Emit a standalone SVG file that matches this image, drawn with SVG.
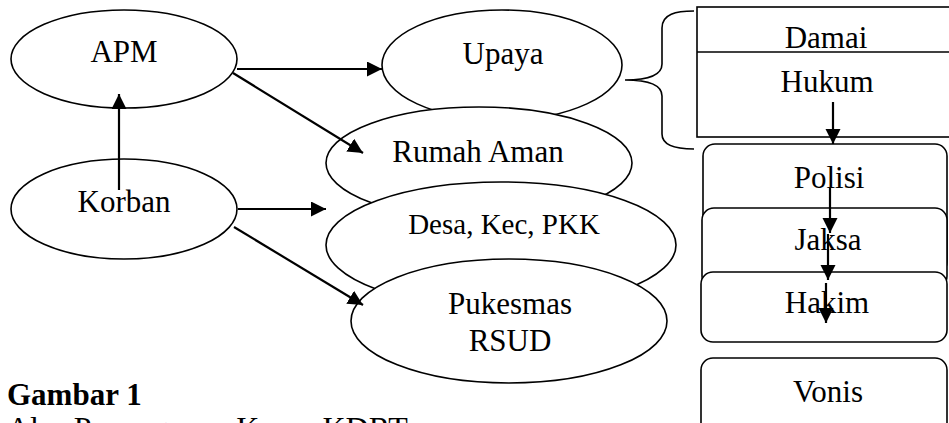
<svg xmlns="http://www.w3.org/2000/svg" width="949" height="423" viewBox="0 0 949 423">
<defs>
<style>
.n{fill:#fff;stroke:#000;stroke-width:1.6}
.t{font-family:"Liberation Serif","Times New Roman",serif;font-size:31px;fill:#000;text-anchor:middle}
.c line{stroke:#000;stroke-width:2.2;marker-end:url(#ah)}
</style>
<marker id="ah" markerUnits="userSpaceOnUse" markerWidth="16" markerHeight="16" refX="15" refY="7.5" orient="auto">
<path d="M0,0 L15,7.5 L0,15 z" fill="#000"/>
</marker>
</defs>
<rect width="949" height="423" fill="#fff"/>
<g id="apm"><ellipse class="n" cx="124" cy="59" rx="113" ry="49"/><text class="t" x="124" y="62">APM</text></g>
<g id="korban"><ellipse class="n" cx="124" cy="209" rx="113" ry="50"/><text class="t" x="124" y="212">Korban</text></g>
<g id="upaya"><ellipse class="n" cx="502" cy="65" rx="120" ry="55"/><text class="t" x="503" y="64">Upaya</text></g>
<g id="rumah"><ellipse class="n" cx="479" cy="163" rx="153" ry="56"/><text class="t" x="478" y="162">Rumah Aman</text></g>
<g id="desa"><ellipse class="n" cx="501" cy="245" rx="175" ry="63"/><text class="t" x="504" y="234" style="font-size:29px">Desa, Kec, PKK</text></g>
<g id="pukesmas"><ellipse class="n" cx="509" cy="321" rx="158" ry="62"/><text class="t" x="510" y="314">Pukesmas</text><text class="t" x="510" y="351">RSUD</text></g>
<g id="brace"><path d="M694,11 C676,11 662,14 662,28 L662,64 C662,76 645,80 625,80 C645,80 662,84 662,96 L662,134 C662,146 676,149 694,149" fill="none" stroke="#000" stroke-width="1.6"/></g>
<g id="damai-hukum"><rect class="n" x="697" y="7" width="260" height="130"/><line x1="697" y1="52" x2="957" y2="52" stroke="#000" stroke-width="1.6"/><text class="t" x="826" y="48">Damai</text><text class="t" x="827" y="92">Hukum</text></g>
<g id="polisi"><rect class="n" x="703" y="144" width="244" height="130" rx="12"/><text class="t" x="829" y="188">Polisi</text></g>
<g id="jaksa"><rect class="n" x="702" y="208" width="245" height="80" rx="12"/><text class="t" x="828" y="250">Jaksa</text></g>
<g id="hakim"><rect class="n" x="701" y="272" width="246" height="70" rx="12"/><text class="t" x="827" y="313">Hakim</text></g>
<g id="vonis"><rect class="n" x="701" y="358" width="246" height="90" rx="12"/><text class="t" x="828" y="402">Vonis</text></g>
<g id="connectors" class="c">
<line x1="119" y1="190" x2="119" y2="94"/>
<line x1="237" y1="69" x2="382" y2="69"/>
<line x1="233" y1="73" x2="363" y2="153"/>
<line x1="238" y1="209" x2="326" y2="209"/>
<line x1="234" y1="227" x2="363" y2="305"/>
<line x1="833" y1="102" x2="833" y2="144"/>
<line x1="830" y1="187" x2="830" y2="233"/>
<line x1="828" y1="234" x2="828" y2="280"/>
<line x1="826" y1="283" x2="826" y2="323"/>
</g>
<g id="caption">
<text x="7" y="405" style="font-family:'Liberation Serif','Times New Roman',serif;font-size:31px;font-weight:bold">Gambar 1</text>
<text x="7" y="439" style="font-family:'Liberation Serif','Times New Roman',serif;font-size:32px">Alur Penanganan Kasus KDRT</text>
</g>
</svg>
